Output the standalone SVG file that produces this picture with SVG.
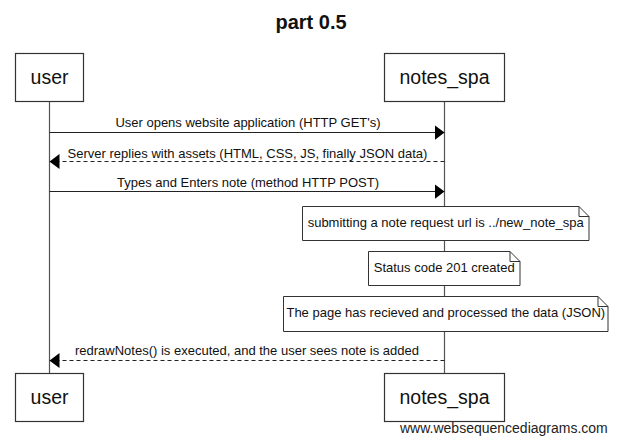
<svg xmlns="http://www.w3.org/2000/svg" width="618" height="445" viewBox="0 0 618 445">
<defs>
<style>
.box{fill:#fff;stroke:#333;stroke-width:1.2}
.life{stroke:#555;stroke-width:1.2;fill:none}
.msg{stroke:#222;stroke-width:1.2;fill:none}
.dash{stroke-dasharray:4,3}
.note{fill:#fff;stroke:#333;stroke-width:1}
.ptxt{font-family:"Liberation Sans",Arial,sans-serif;font-size:19.5px;fill:#111;text-anchor:middle}
.mtxt{font-family:"Liberation Sans",Arial,sans-serif;font-size:13px;fill:#111;text-anchor:middle}
.title{font-family:"Liberation Sans",Arial,sans-serif;font-size:20px;font-weight:bold;fill:#111;text-anchor:middle}
.wm{font-family:"Liberation Sans",Arial,sans-serif;font-size:14px;fill:#222}
</style>
<marker id="ah" markerUnits="userSpaceOnUse" markerWidth="10" markerHeight="15" refX="10" refY="7.5" orient="auto">
<path d="M0,0 L10,7.5 L0,15 Z" fill="#000"/>
</marker>
</defs>
<rect width="618" height="445" fill="#fff"/>
<text class="title" x="311" y="29">part 0.5</text>

<g id="lifelines">
<line class="life" x1="49.5" y1="101.5" x2="49.5" y2="373.5"/>
<line class="life" x1="444.5" y1="101.5" x2="444.5" y2="373.5"/>
</g>

<g id="user">
<rect class="box" x="15.5" y="53.5" width="68" height="48"/>
<text class="ptxt" x="49.5" y="84.3">user</text>
</g>
<g id="notes_spa">
<rect class="box" x="384.5" y="53.5" width="120" height="48"/>
<text class="ptxt" x="444.5" y="84.3">notes_spa</text>
</g>
<g id="user_bottom">
<rect class="box" x="15.5" y="373.5" width="68" height="48"/>
<text class="ptxt" x="49.5" y="404.3">user</text>
</g>
<g id="notes_spa_bottom">
<rect class="box" x="384.5" y="373.5" width="120" height="48"/>
<text class="ptxt" x="444.5" y="404.3">notes_spa</text>
</g>

<g id="connectors">
<line class="msg" x1="49.5" y1="132.5" x2="444.5" y2="132.5" marker-end="url(#ah)"/>
<text class="mtxt" x="248" y="127.3">User opens website application (HTTP GET's)</text>
<line class="msg dash" x1="444.5" y1="161.5" x2="49.5" y2="161.5" marker-end="url(#ah)"/>
<text class="mtxt" x="247.5" y="157.5">Server replies with assets (HTML, CSS, JS, finally JSON data)</text>
<line class="msg" x1="49.5" y1="191.5" x2="444.5" y2="191.5" marker-end="url(#ah)"/>
<text class="mtxt" x="248" y="186.7">Types and Enters note (method HTTP POST)</text>
<line class="msg dash" x1="444.5" y1="360.5" x2="49.5" y2="360.5" marker-end="url(#ah)"/>
<text class="mtxt" x="247" y="355">redrawNotes() is executed, and the user sees note is added</text>
</g>

<g id="note1">
<path class="note" d="M302.5,206.5 H579 L589,216.5 V240.5 H302.5 Z M579,206.5 V216.5 H589"/>
<text class="mtxt" x="445.7" y="226.7">submitting a note request url is ../new_note_spa</text>
</g>
<g id="note2">
<path class="note" d="M368.5,251.5 H510 L520,261.5 V285.5 H368.5 Z M510,251.5 V261.5 H520"/>
<text class="mtxt" x="444.2" y="271.7">Status code 201 created</text>
</g>
<g id="note3">
<path class="note" d="M283.5,296.5 H598 L608,306.5 V331.5 H283.5 Z M598,296.5 V306.5 H608"/>
<text class="mtxt" x="445.8" y="316.7">The page has recieved and processed the data (JSON)</text>
</g>

<text class="wm" x="400" y="433">www.websequencediagrams.com</text>
</svg>
